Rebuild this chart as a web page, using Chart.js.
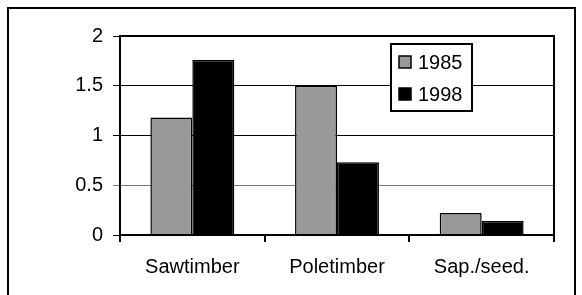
<!DOCTYPE html>
<html>
<head>
<meta charset="utf-8">
<script src="https://cdn.jsdelivr.net/npm/chart.js@4.4.1/dist/chart.umd.min.js"></script>
<style>
  html, body { margin:0; padding:0; background:#fff; }
  #wrap { position:relative; width:582px; height:295px; }
</style>
</head>
<body>
<div id="wrap"><canvas id="c" width="582" height="295"></canvas></div>
<script>
  const categories = ['Sawtimber', 'Poletimber', 'Sap./seed.'];
  const seriesNames = ['1985', '1998'];
  const values1985 = [1.18, 1.5, 0.22];
  const values1998 = [1.76, 0.73, 0.14];
  const yTicks = [0, 0.5, 1, 1.5, 2];

  const FONT = { family: 'Arial, "Liberation Sans", sans-serif', size: 20 };

  // plot box + outer frame
  const frame = {
    id:'frame',
    beforeDraw(chart){
      const c = chart.ctx;
      c.save();
      c.fillStyle = '#fff'; c.fillRect(0,0,chart.width,chart.height);
      c.strokeStyle = '#000'; c.lineWidth = 2;
      c.beginPath();
      c.moveTo(8, chart.height); c.lineTo(8, 8); c.lineTo(575, 8); c.lineTo(575, chart.height);
      c.stroke();
      c.restore();
    },
    afterDraw(chart){
      const a = chart.chartArea, c = chart.ctx;
      c.save();
      c.strokeStyle = '#000'; c.lineWidth = 2;
      c.strokeRect(a.left, a.top, a.right - a.left, a.bottom - a.top);
      c.restore();
    }
  };

  // legend box drawn inside the plot area
  const boxLegend = {
    id:'boxLegend',
    afterDraw(chart){
      const c = chart.ctx, a = chart.chartArea;
      const x = a.left + 271, y = a.top + 8, w = 81, h = 67;
      c.save();
      c.fillStyle = '#fff'; c.fillRect(x, y, w, h);
      c.strokeStyle = '#000'; c.lineWidth = 2; c.strokeRect(x, y, w, h);
      c.font = FONT.size + 'px ' + FONT.family;
      c.textBaseline = 'middle';
      chart.data.datasets.forEach((ds, i) => {
        const cy = y + 18 + i * 32;
        c.fillStyle = ds.backgroundColor;
        c.fillRect(x + 8, cy - 6, 12, 12);
        c.lineWidth = 1.5; c.strokeStyle = '#000';
        c.strokeRect(x + 8, cy - 6, 12, 12);
        c.fillStyle = '#000';
        c.fillText(ds.label, x + 27, cy + 1);
      });
      c.restore();
    }
  };

  new Chart(document.getElementById('c'), {
    type:'bar',
    data:{
      labels: categories,
      datasets:[
        { label: seriesNames[0], data: values1985, backgroundColor:'#999999', borderColor:'#000', borderWidth:1.5 },
        { label: seriesNames[1], data: values1998, backgroundColor:'#000000', borderColor:'#000', borderWidth:1.5 }
      ]
    },
    options:{
      responsive:false, animation:false,
      layout:{ padding:{ left:0, right:28, top:36, bottom:0 } },
      datasets:{ bar:{ categoryPercentage:0.58, barPercentage:1.0 } },
      plugins:{ legend:{ display:false }, tooltip:{ enabled:false } },
      scales:{
        x:{
          offset:true,
          grid:{ offset:true, drawOnChartArea:false, color:'#000', lineWidth:2, tickLength:7 },
          border:{ display:true, color:'#000', width:2 },
          ticks:{ color:'#000', font:FONT, padding:13, maxRotation:0 },
          afterFit(s){ s.height = 60; }
        },
        y:{
          min:0, max:2,
          afterBuildTicks(s){ s.ticks = yTicks.map(v => ({ value:v })); },
          grid:{ color: ctx => ctx.tick && ctx.tick.value === 0.5 ? '#777' : '#000', lineWidth:1, tickLength:7 },
          border:{ display:true, color:'#000', width:2 },
          ticks:{ color:'#000', font:FONT, padding:10, callback: v => String(v) },
          afterFit(s){ s.width = 120; }
        }
      }
    },
    plugins:[frame, boxLegend]
  });
</script>
</body>
</html>
